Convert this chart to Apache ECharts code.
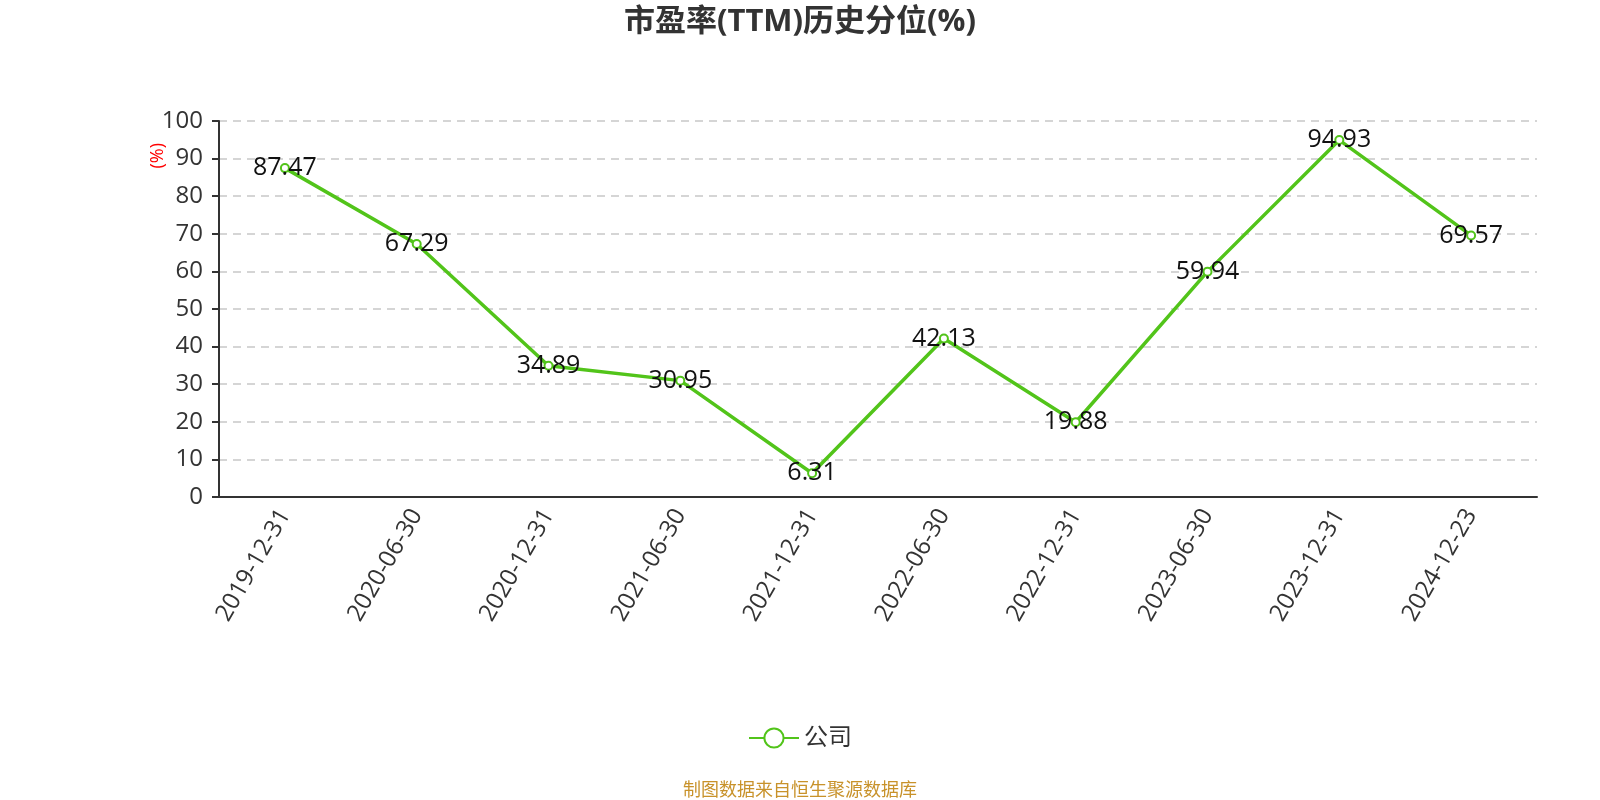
<!DOCTYPE html>
<html><head><meta charset="utf-8">
<script src="https://cdn.jsdelivr.net/npm/echarts@6/dist/echarts.min.js"></script>
<style>html,body{margin:0;padding:0;background:#fff}#c{width:1600px;height:800px}</style>
</head><body><div id="c"></div>
<script>
const categories = ['2019-12-31','2020-06-30','2020-12-31','2021-06-30','2021-12-31','2022-06-30','2022-12-31','2023-06-30','2023-12-31','2024-12-23'];
const companyValues = [87.47, 67.29, 34.89, 30.95, 6.31, 42.13, 19.88, 59.94, 94.93, 69.57];
const seriesName = '公司';
const titleText = '市盈率(TTM)历史分位(%)';
const footerText = '制图数据来自恒生聚源数据库';
const font = '"Open Sans", "Noto Sans CJK SC", sans-serif';
const chart = echarts.init(document.getElementById('c'));
chart.setOption({
  animation: false,
  textStyle: {fontFamily: font},
  title: [{
    text: titleText, left: 'center', top: 2,
    textStyle: {fontSize: 31, fontWeight: 'bold', color: '#333', fontFamily: font}
  }, {
    text: footerText, left: 'center', bottom: -5,
    textStyle: {fontSize: 18, fontWeight: 'normal', color: '#c8922a', fontFamily: font}
  }],
  legend: {
    data: [seriesName], bottom: 45, left: 'center',
    itemWidth: 50, itemHeight: 24,
    textStyle: {fontSize: 24, color: '#333', fontFamily: font}
  },
  grid: {left: 219, right: 63, top: 121, bottom: 303},
  xAxis: {
    type: 'category', data: categories, boundaryGap: true,
    axisLine: {lineStyle: {color: '#333', width: 2}},
    axisTick: {lineStyle: {color: '#333', width: 2}, length: 7},
    axisLabel: {rotate: 60, fontSize: 24, color: '#333', margin: 14, interval: 0}
  },
  yAxis: {
    type: 'value', min: 0, max: 100, interval: 10,
    name: '(%)', nameLocation: 'end', nameRotate: 90,
    nameGap: -22,
    nameTextStyle: {color: 'red', fontSize: 18, align: 'right', verticalAlign: 'bottom', padding: [0, 0, 52, 0]},
    axisLine: {show: true, lineStyle: {color: '#333', width: 2}},
    axisTick: {show: true, lineStyle: {color: '#333', width: 2}, length: 7},
    axisLabel: {fontSize: 24, color: '#333', margin: 16},
    splitLine: {lineStyle: {type: [8, 6], color: '#c8c8c8', width: 1.5}}
  },
  series: [{
    name: seriesName, type: 'line', data: companyValues,
    symbol: 'emptyCircle', symbolSize: 8,
    lineStyle: {color: '#52c41a', width: 3.5},
    itemStyle: {color: '#52c41a', borderWidth: 2},
    label: {show: true, position: 'inside', fontSize: 25, color: '#111', fontFamily: font}
  }]
});
</script></body></html>
